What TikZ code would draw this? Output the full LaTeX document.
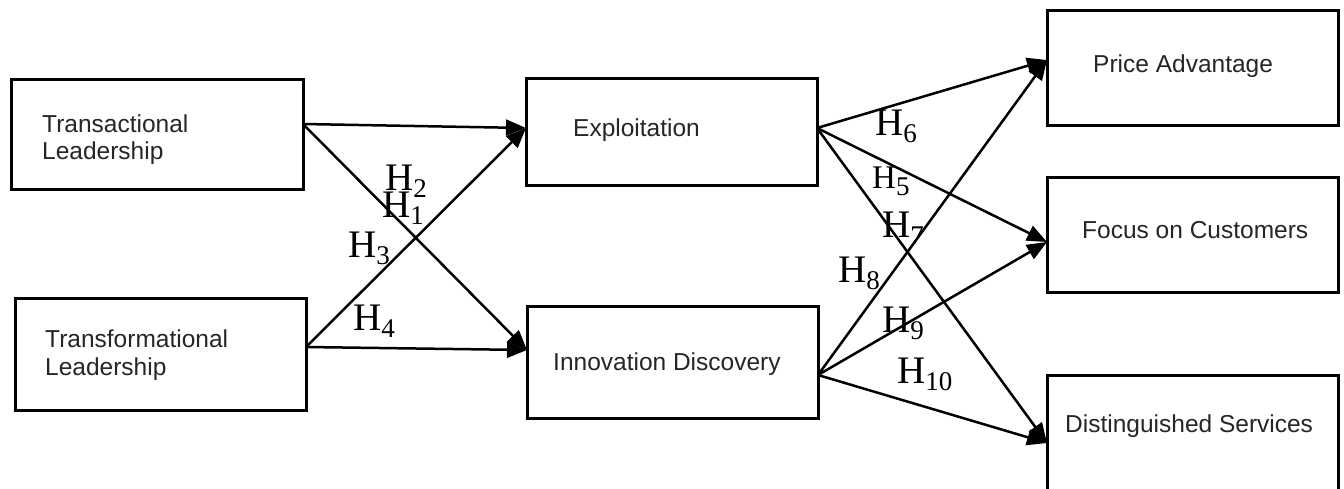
\documentclass[tikz,border=0pt]{standalone}
\usepackage{fontspec}
\setmainfont{Liberation Serif}
\newfontfamily\boxfont{Liberation Sans}
\usetikzlibrary{arrows.meta}
\newcommand{\hyp}[1]{H\raisebox{-7pt}{\fontsize{27}{27}\selectfont #1}}
\begin{document}
\begin{tikzpicture}[x=1pt,y=-1pt,
  box/.style={draw=black, line width=3pt, inner sep=0pt, outer sep=0pt, minimum width=291pt},
  boxtext/.style={anchor=base west, inner sep=0pt, font=\boxfont\fontsize{24.5}{28}\selectfont, text=black!85},
  hl/.style={anchor=base west, inner sep=0pt, font=\fontsize{39}{39}\selectfont},
  conn/.style={line width=2.5pt, -{Triangle[length=20pt,width=16pt]}}]
\useasboundingbox (0,0) rectangle (1344,488);
\clip (0,0) rectangle (1344,488);
\fill[white] (0,0) rectangle (1344,488);
% boxes
\node[box, minimum width=292pt, minimum height=110pt] (trans) at (157,134) {};
\node[box, minimum height=112pt] (transf) at (160.5,354) {};
\node[box, minimum height=107pt] (expl) at (671.5,131.5) {};
\node[box, minimum height=112pt] (innov) at (672.5,362) {};
\node[box, minimum height=115pt] (price) at (1192.5,67.5) {};
\node[box, minimum height=115pt] (focus) at (1192.5,234.5) {};
\node[box, minimum height=125pt] (dist) at (1192.5,437.5) {};
% box texts
\node[boxtext] (t1a) at (42,132) {Transactional};
\node[boxtext] (t1b) at (42,159) {Leadership};
\node[boxtext] (t2a) at (45,347) {Transformational};
\node[boxtext] (t2b) at (45,375) {Leadership};
\node[boxtext] (t3) at (573,136) {Exploitation};
\node[boxtext] (t4) at (553,370) {Innovation Discovery};
\node[boxtext] (t5) at (1093,72) {Price Advantage};
\node[boxtext] (t6) at (1082,238) {Focus on Customers};
\node[boxtext] (t7) at (1065,432) {Distinguished Services};
% connectors
\draw[conn] ([yshift=10pt]trans.east) -- ([yshift=3.5pt]expl.west);
\draw[conn] ([yshift=10pt]trans.east) -- ([yshift=12pt]innov.west);
\draw[conn] ([yshift=7pt]transf.east) -- ([yshift=3.5pt]expl.west);
\draw[conn] ([yshift=7pt]transf.east) -- ([yshift=12pt]innov.west);
\draw[conn] ([yshift=3.5pt]expl.east) -- ([yshift=7.5pt]price.west);
\draw[conn] ([yshift=3.5pt]expl.east) -- ([yshift=-7.5pt]focus.west);
\draw[conn] ([yshift=3.5pt]expl.east) -- ([yshift=-5.5pt]dist.west);
\draw[conn] ([yshift=-13pt]innov.east) -- ([yshift=7.5pt]price.west);
\draw[conn] ([yshift=-13pt]innov.east) -- ([yshift=-7.5pt]focus.west);
\draw[conn] ([yshift=-13pt]innov.east) -- ([yshift=-5.5pt]dist.west);
% labels
\node[hl] (h2) at (385,190) {\hyp{2}};
\node[hl] (h1) at (382,217) {\hyp{1}};
\node[hl] (h3) at (348,257) {\hyp{3}};
\node[hl] (h4) at (353,330) {\hyp{4}};
\node[hl] (h6) at (875,135) {\hyp{6}};
\node[hl, font=\fontsize{33}{33}\selectfont] (h5) at (872,188) {\hyp{5}};
\node[hl] (h7) at (882,237) {\hyp{7}};
\node[hl] (h8) at (838,282) {\hyp{8}};
\node[hl] (h9) at (882,332) {\hyp{9}};
\node[hl] (h10) at (897,383) {\hyp{10}};
\end{tikzpicture}
\end{document}
